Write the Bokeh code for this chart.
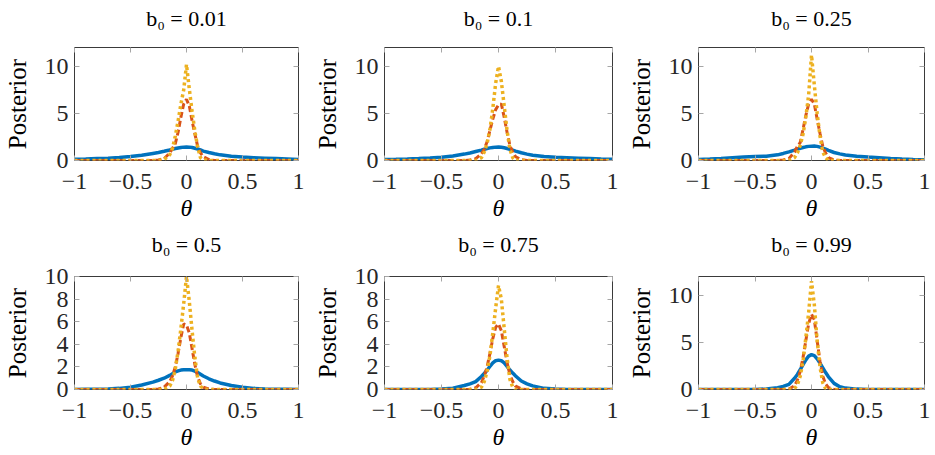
from bokeh.plotting import figure
from bokeh.layouts import column, row
from bokeh.models import LinearAxis, FixedTicker, Range1d
from bokeh.embed import file_html
from bokeh.resources import INLINE

# Grid of theta values (denser around zero where the peaks are)
theta = [-1.0, -0.9, -0.8, -0.7, -0.6, -0.5, -0.4, -0.3, -0.25, -0.2,
         -0.15, -0.125, -0.1, -0.075, -0.05, -0.025, 0.0,
         0.025, 0.05, 0.075, 0.1, 0.125, 0.15,
         0.2, 0.25, 0.3, 0.4, 0.5, 0.6, 0.7, 0.8, 0.9, 1.0]

titles = ["b\u2080 = 0.01", "b\u2080 = 0.1", "b\u2080 = 0.25",
          "b\u2080 = 0.5", "b\u2080 = 0.75", "b\u2080 = 0.99"]

y_max = [12, 12, 12, 10, 10, 12]
y_ticks = [[0, 5, 10], [0, 5, 10], [0, 5, 10],
           [0, 2, 4, 6, 8, 10], [0, 2, 4, 6, 8, 10], [0, 5, 10]]
x_ticks = [-1, -0.5, 0, 0.5, 1]
x_tick_labels = ["\u22121", "\u22120.5", "0", "0.5", "1"]

# b0 = 0.01
blue_a = [0.12, 0.15, 0.2, 0.25, 0.32, 0.42, 0.55, 0.75, 0.85, 0.98, 1.12, 1.2, 1.27, 1.33, 1.38, 1.42, 1.43,
          1.42, 1.38, 1.3, 1.22, 1.12, 1.0, 0.85, 0.72, 0.6, 0.45, 0.36, 0.3, 0.25, 0.2, 0.15, 0.1]
red_a = [0, 0, 0, 0, 0, 0, 0, 0, 0.05, 0.2, 0.8, 1.3, 1.8, 3.0, 4.6, 6.0, 6.5,
         5.8, 4.2, 2.8, 1.5, 0.8, 0.4, 0.1, 0, 0, 0, 0, 0, 0, 0, 0, 0]
yel_a = [0, 0, 0, 0, 0, 0, 0, 0, 0, 0.1, 0.6, 1.3, 2.6, 4.2, 6.0, 7.5, 10.2,
         7.6, 5.2, 3.1, 1.4, 0.3, 0.05, 0, 0, 0, 0, 0, 0, 0, 0, 0, 0]

# b0 = 0.1
blue_b = [0.1, 0.12, 0.15, 0.2, 0.27, 0.35, 0.48, 0.68, 0.8, 0.95, 1.1, 1.2, 1.28, 1.34, 1.39, 1.42, 1.43,
          1.4, 1.35, 1.28, 1.2, 1.1, 1.0, 0.82, 0.68, 0.55, 0.42, 0.35, 0.3, 0.25, 0.2, 0.15, 0.12]
red_b = [0, 0, 0, 0, 0, 0, 0, 0, 0.05, 0.2, 0.7, 1.2, 2.0, 3.2, 4.4, 5.4, 5.9,
         6.0, 4.6, 3.0, 1.6, 0.9, 0.4, 0.1, 0, 0, 0, 0, 0, 0, 0, 0, 0]
yel_b = [0, 0, 0, 0, 0, 0, 0, 0, 0, 0, 0.3, 0.9, 1.8, 3.3, 5.5, 8.2, 10.0,
         8.4, 5.8, 3.2, 1.2, 0.3, 0, 0, 0, 0, 0, 0, 0, 0, 0, 0, 0]

# b0 = 0.25
blue_c = [0.1, 0.15, 0.22, 0.3, 0.38, 0.42, 0.45, 0.6, 0.75, 0.92, 1.1, 1.2, 1.3, 1.38, 1.45, 1.5, 1.52,
          1.53, 1.5, 1.42, 1.32, 1.2, 1.07, 0.85, 0.7, 0.58, 0.45, 0.36, 0.3, 0.22, 0.15, 0.1, 0.08]
red_c = [0, 0, 0, 0, 0, 0, 0, 0, 0.05, 0.2, 0.9, 1.5, 1.9, 3.3, 4.8, 6.0, 6.5,
         6.0, 4.4, 2.9, 1.5, 0.8, 0.3, 0.05, 0, 0, 0, 0, 0, 0, 0, 0, 0]
yel_c = [0, 0, 0, 0, 0, 0, 0, 0, 0, 0, 0.3, 0.8, 1.6, 2.8, 4.6, 7.0, 11.2,
         8.0, 5.0, 2.6, 0.9, 0.3, 0, 0, 0, 0, 0, 0, 0, 0, 0, 0, 0]

# b0 = 0.5
blue_d = [0.01, 0.02, 0.03, 0.05, 0.1, 0.2, 0.4, 0.65, 0.82, 1.0, 1.25, 1.4, 1.55, 1.65, 1.72, 1.75, 1.75,
          1.75, 1.72, 1.62, 1.5, 1.35, 1.2, 0.95, 0.75, 0.58, 0.35, 0.2, 0.1, 0.05, 0.03, 0.02, 0.01]
red_d = [0, 0, 0, 0, 0, 0, 0, 0, 0.05, 0.2, 0.7, 1.2, 2.0, 3.2, 4.6, 5.8, 5.7,
         5.0, 3.6, 2.2, 1.1, 0.5, 0.2, 0.05, 0, 0, 0, 0, 0, 0, 0, 0, 0]
yel_d = [0, 0, 0, 0, 0, 0, 0, 0, 0, 0, 0.3, 0.8, 1.8, 3.4, 5.4, 7.6, 10.0,
         7.8, 5.2, 2.8, 1.0, 0.3, 0.05, 0, 0, 0, 0, 0, 0, 0, 0, 0, 0]

# b0 = 0.75
blue_e = [0, 0, 0, 0, 0.01, 0.04, 0.12, 0.35, 0.5, 0.7, 1.15, 1.42, 1.7, 2.05, 2.35, 2.55, 2.6,
          2.55, 2.35, 2.05, 1.72, 1.45, 1.2, 0.75, 0.5, 0.32, 0.1, 0.04, 0.01, 0, 0, 0, 0]
red_e = [0, 0, 0, 0, 0, 0, 0, 0, 0.02, 0.15, 0.6, 1.2, 2.0, 3.2, 4.5, 5.5, 5.8,
         5.2, 3.8, 2.4, 1.3, 0.7, 0.3, 0.05, 0, 0, 0, 0, 0, 0, 0, 0, 0]
yel_e = [0, 0, 0, 0, 0, 0, 0, 0, 0, 0, 0.2, 0.7, 1.6, 3.0, 5.0, 7.2, 9.2,
         8.0, 5.4, 2.8, 0.9, 0.2, 0, 0, 0, 0, 0, 0, 0, 0, 0, 0, 0]

# b0 = 0.99
blue_f = [0, 0, 0, 0, 0, 0.01, 0.05, 0.2, 0.32, 0.55, 1.2, 1.6, 2.1, 2.65, 3.15, 3.55, 3.7,
          3.6, 3.25, 2.8, 2.3, 1.8, 1.35, 0.65, 0.3, 0.15, 0.04, 0.01, 0, 0, 0, 0, 0]
red_f = [0, 0, 0, 0, 0, 0, 0, 0, 0, 0.05, 0.4, 1.0, 1.9, 3.4, 5.2, 7.0, 8.0,
         7.4, 5.2, 3.0, 1.4, 0.6, 0.2, 0, 0, 0, 0, 0, 0, 0, 0, 0, 0]
yel_f = [0, 0, 0, 0, 0, 0, 0, 0, 0, 0, 0.1, 0.5, 1.4, 3.0, 5.5, 8.2, 11.5,
         9.0, 5.2, 2.4, 0.7, 0.1, 0, 0, 0, 0, 0, 0, 0, 0, 0, 0, 0]

blue_series = [blue_a, blue_b, blue_c, blue_d, blue_e, blue_f]
red_series = [red_a, red_b, red_c, red_d, red_e, red_f]
yel_series = [yel_a, yel_b, yel_c, yel_d, yel_e, yel_f]

SERIF = "'Liberation Serif', 'Times New Roman', serif"
TICK_GREY = "#a6a6a6"
FRAME = "#3a3a3a"

# per column: (total width, left border, right border)
col_geom = [(310, 71, 12), (310, 74, 8), (315, 78, 11)]
# per row: (total height, top border, bottom border, gap between title and frame)
row_geom = [(225, 47, 65, 17), (230, 51, 66, 20)]


def style_ticks(ax, ticks):
    ax.ticker = FixedTicker(ticks=ticks)
    ax.axis_line_color = None
    ax.major_tick_in = 5
    ax.major_tick_out = 0
    ax.major_tick_line_color = TICK_GREY
    ax.minor_tick_line_color = None


def make_panel(i):
    r, c = divmod(i, 3)
    w, bl, br = col_geom[c]
    h, bt, bb, gap = row_geom[r]
    p = figure(width=w, height=h, output_backend="svg", toolbar_location=None,
               x_range=Range1d(-1, 1), y_range=Range1d(0, y_max[i]),
               x_axis_label="\u03b8", y_axis_label="Posterior",
               min_border_left=bl, min_border_right=br,
               min_border_top=bt, min_border_bottom=bb)

    p.grid.visible = False
    p.background_fill_color = "white"
    p.border_fill_color = "white"
    p.outline_line_color = FRAME
    p.outline_line_width = 1
    p.outline_line_alpha = 1

    for ax, ticks in ((p.xaxis[0], x_ticks), (p.yaxis[0], y_ticks[i])):
        style_ticks(ax, ticks)
        ax.major_label_text_font = SERIF
        ax.major_label_text_font_size = "24px"
        ax.major_label_text_color = "#262626"
        ax.axis_label_text_font = SERIF
        ax.axis_label_text_color = "black"

    p.xaxis.major_label_overrides = dict(zip(x_ticks, x_tick_labels))
    p.xaxis.major_label_standoff = 13
    p.xaxis.axis_label_standoff = 3
    p.xaxis.axis_label_text_font_size = "24px"
    p.xaxis.axis_label_text_font_style = "italic"
    p.yaxis.major_label_standoff = 6
    p.yaxis.axis_label_standoff = 11
    p.yaxis.axis_label_text_font_size = "25px"
    p.yaxis.axis_label_text_font_style = "normal"

    # mirrored tick marks on top (carrying the panel title) and on the right
    top = LinearAxis(axis_label=titles[i])
    style_ticks(top, x_ticks)
    top.major_label_text_font_size = "0px"
    top.major_label_standoff = 0
    top.major_label_overrides = {t: "" for t in x_ticks}
    top.axis_label_text_font = SERIF
    top.axis_label_text_font_size = "22px"
    top.axis_label_text_font_style = "normal"
    top.axis_label_text_color = "black"
    top.axis_label_standoff = gap
    p.add_layout(top, "above")

    right = LinearAxis()
    style_ticks(right, y_ticks[i])
    right.major_label_text_font_size = "0px"
    right.major_label_standoff = 0
    right.major_label_overrides = {t: "" for t in y_ticks[i]}
    p.add_layout(right, "right")

    p.line(theta, blue_series[i], line_color="#0072BD", line_width=3.5)
    p.line(theta, red_series[i], line_color="#D95319", line_width=3,
           line_dash="6 3")
    p.line(theta, yel_series[i], line_color="#EDB120", line_width=3.5,
           line_dash="3 3")
    return p


panels = [make_panel(i) for i in range(6)]
layout = column(row(*panels[:3]), row(*panels[3:]))

open("out.html", "w").write(file_html(layout, INLINE))
